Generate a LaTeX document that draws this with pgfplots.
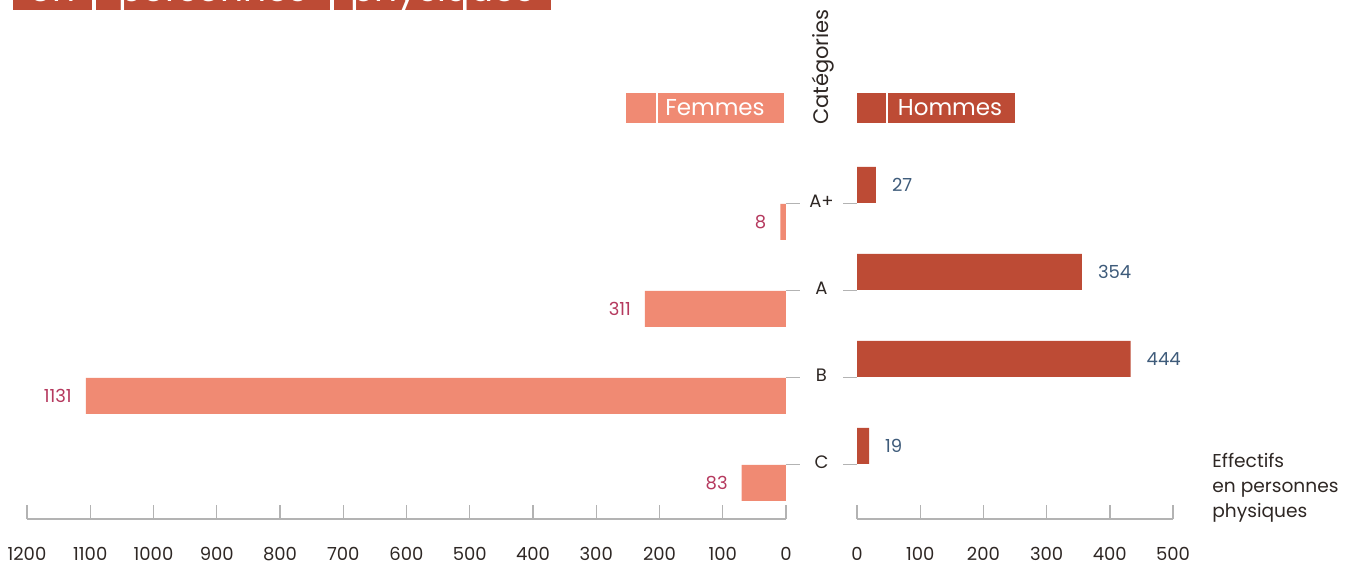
\documentclass[border=0pt]{standalone}
\usepackage{fontspec}
\setmainfont{Poppins}
\usepackage{pgfplots}
\usepackage{pgfplotstable}
\pgfplotsset{compat=1.18}

\definecolor{femme}{HTML}{F08A73}
\definecolor{homme}{HTML}{BD4B35}
\definecolor{femlab}{HTML}{B5395E}
\definecolor{homlab}{HTML}{3E5B7A}
\definecolor{axgray}{HTML}{B3B3B3}
\definecolor{txt}{HTML}{2E2724}

% cat: 0=C 1=B 2=A 3=A+ ; len = drawn bar length, lab = printed value
\pgfplotstableread{
cat len lab
0 70 83
1 1107 1131
2 223 311
3 9 8
}\femmes
\pgfplotstableread{
cat len lab
0 19 19
1 433 444
2 356 354
3 30 27
}\hommes

\pgfplotsset{
  butterfly/.style={
    scale only axis,
    height=179.6pt,
    ymin=-0.629, ymax=3.5,
    axis x line*=bottom,
    x axis line style={draw=axgray, line width=0.7pt, -},
    xtick align=inside,
    major tick length=7pt,
    every tick/.style={draw=axgray, line width=0.7pt},
    xticklabel style={font=\fontsize{9}{10}\selectfont, text=txt, yshift=-10.5pt},
    /pgf/number format/assume math mode=true,
    /pgf/number format/1000 sep={},
    ytick={0,1,2,3},
    yticklabels={},
    y axis line style={draw=none},
    ytick align=outside,
    point meta=explicit symbolic,
    nodes near coords,
    clip=false,
  },
}

\begin{document}
\begin{tikzpicture}
\useasboundingbox (0,0) rectangle (675pt,281pt);

% cut title at the top
\begin{scope}
\clip (0,276pt) rectangle (675pt,281pt);
\fill[homme] (6.5pt,276pt) rectangle (46pt,300pt);
\fill[homme] (48pt,276pt) rectangle (165pt,300pt);
\fill[homme] (167pt,276pt) rectangle (231.5pt,300pt);
\fill[homme] (233pt,276pt) rectangle (275.5pt,300pt);
\node[anchor=base, text=white, font=\fontsize{18}{20}\selectfont] at (26.25pt,280.3pt) {en};
\node[anchor=base, text=white, font=\fontsize{18}{20}\selectfont] at (106.5pt,280.3pt) {personnes};
\node[anchor=base, text=white, font=\fontsize{18}{20}\selectfont] at (221.25pt,280.3pt) {physiques};
\end{scope}

% Femmes (left, reversed)
\begin{axis}[
  butterfly,
  at={(13.5pt,21.5pt)}, anchor=south west,
  width=379.5pt,
  xmin=0, xmax=1200, x dir=reverse,
  xtick={0,100,...,1200},
  axis y line*=right,
  nodes near coords style={anchor=east, xshift=-3.5pt, yshift=-9.25pt, text=femlab, font=\fontsize{9}{10}\selectfont},
]
\addplot[xbar, bar width=18pt, bar shift=-9.25pt, draw=none, fill=femme]
  table[x=len, y=cat, meta=lab] {\femmes};
\end{axis}

% Hommes (right)
\begin{axis}[
  butterfly,
  at={(428.5pt,21.5pt)}, anchor=south west,
  width=158pt,
  xmin=0, xmax=500,
  xtick={0,100,...,500},
  axis y line*=left,
  nodes near coords style={anchor=west, xshift=4.5pt, yshift=9.25pt, text=homlab, font=\fontsize{9}{10}\selectfont},
]
\addplot[xbar, bar width=18pt, bar shift=9.25pt, draw=none, fill=homme]
  table[x=len, y=cat, meta=lab] {\hommes};
\node[text=txt, font=\fontsize{9}{10}\selectfont, xshift=-17.75pt, yshift=1pt] at (axis cs:0,3) {A+};
\node[text=txt, font=\fontsize{9}{10}\selectfont, xshift=-17.75pt, yshift=1pt] at (axis cs:0,2) {A};
\node[text=txt, font=\fontsize{9}{10}\selectfont, xshift=-17.75pt, yshift=1pt] at (axis cs:0,1) {B};
\node[text=txt, font=\fontsize{9}{10}\selectfont, xshift=-17.75pt, yshift=1pt] at (axis cs:0,0) {C};
\end{axis}

% legend boxes
\fill[femme] (313pt,219.5pt) rectangle (392pt,234.5pt);
\draw[white, line width=1pt] (328.5pt,219.5pt) -- (328.5pt,234.5pt);
\node[text=white, font=\fontsize{11.5}{12}\selectfont] at (357.5pt,227pt) {Femmes};
\fill[homme] (428.5pt,219.5pt) rectangle (507.5pt,234.5pt);
\draw[white, line width=1pt] (443.5pt,219.5pt) -- (443.5pt,234.5pt);
\node[text=white, font=\fontsize{11.5}{12}\selectfont] at (475pt,227pt) {Hommes};
\node[rotate=90, text=txt, font=\fontsize{10.5}{12}\selectfont] at (411.5pt,247.5pt) {Catégories};

% unit note
\node[anchor=base west, inner sep=0pt, text=txt, font=\fontsize{9.3}{12}\selectfont] at (606pt,47pt) {Effectifs};
\node[anchor=base west, inner sep=0pt, text=txt, font=\fontsize{9.3}{12}\selectfont] at (606pt,34.5pt) {en personnes};
\node[anchor=base west, inner sep=0pt, text=txt, font=\fontsize{9.3}{12}\selectfont] at (606pt,22pt) {physiques};
\end{tikzpicture}
\end{document}
